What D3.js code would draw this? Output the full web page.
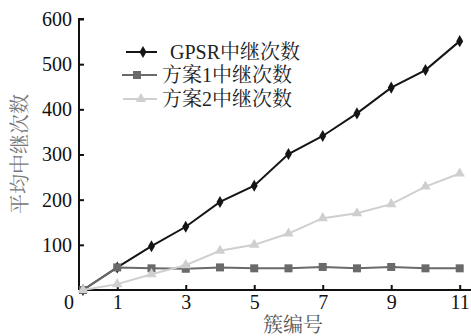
<!DOCTYPE html>
<html>
<head>
<meta charset="utf-8">
<script src="https://cdn.jsdelivr.net/npm/d3@7"></script>
<style>
  body { margin: 0; background: #fff; }
</style>
</head>
<body>
<div id="chart-mount"></div>
<script>
var WIDTH = 471;
var HEIGHT = 336;
var FONT = '"Liberation Serif", "Noto Serif CJK SC", "Noto Sans CJK SC", serif';

var CLUSTERS = [0, 1, 2, 3, 4, 5, 6, 7, 8, 9, 10, 11];
var GPSR = [0, 50, 97, 140, 195, 231, 301, 341, 391, 448, 487, 551];
var SCHEME1 = [0, 50, 48, 47, 50, 48, 48, 51, 48, 51, 48, 48];
var SCHEME2 = [0, 13, 35, 55, 87, 100, 125, 159, 170, 190, 229, 258];
var X_TICKS = [1, 3, 5, 7, 9, 11];
var Y_TICKS = [100, 200, 300, 400, 500, 600];
var SERIES_NAMES = ['GPSR中继次数', '方案1中继次数', '方案2中继次数'];

var SERIES = [
  { name: SERIES_NAMES[0], values: GPSR, color: '#151515', symbol: d3.symbolDiamond, size: 42 },
  { name: SERIES_NAMES[1], values: SCHEME1, color: '#6a6a6a', symbol: d3.symbolSquare, size: 64 },
  { name: SERIES_NAMES[2], values: SCHEME2, color: '#cfcfcf', symbol: d3.symbolTriangle, size: 48 }
];

var $svg = d3.select('#chart-mount').append('svg')
  .attr('width', WIDTH)
  .attr('height', HEIGHT)
  .style('font-family', FONT);

var x = d3.scaleLinear().domain([-0.117, 11.33]).range([79, 471]);
var y = d3.scaleLinear().domain([0, 600]).range([290, 19]);

// axes, ticks point inward
var xAxis = d3.axisBottom(x).tickValues(X_TICKS).tickSize(-5).tickPadding(7)
  .tickFormat(d3.format('d'));
var yAxis = d3.axisLeft(y).tickValues(Y_TICKS).tickSize(-5).tickPadding(7)
  .tickFormat(d3.format('d'));

var $gx = $svg.append('g').attr('transform', 'translate(0,' + y(0) + ')').call(xAxis);
var $gy = $svg.append('g').attr('transform', 'translate(' + x.range()[0] + ',0)').call(yAxis);

[$gx, $gy].forEach(function ($g) {
  $g.attr('font-family', FONT).attr('font-size', 20);
  $g.select('.domain').attr('stroke', '#111').attr('stroke-width', 2);
  $g.selectAll('.tick line').attr('stroke', '#111').attr('stroke-width', 2);
  $g.selectAll('.tick text').attr('fill', '#111');
});
$gx.select('.domain').attr('d', 'M' + x.range()[0] + ',0H' + x.range()[1]);
$gy.select('.domain').attr('d', 'M0,' + y(0) + 'V' + y(600) + 'h5');
$gx.selectAll('.tick text').attr('dy', '0.58em');

// shared origin label
$svg.append('text')
  .attr('x', 69).attr('y', y(0) + 19)
  .attr('text-anchor', 'middle')
  .style('font-size', '20px')
  .attr('fill', '#111')
  .text('0');

// series
var line = d3.line()
  .x(function (d, i) { return x(CLUSTERS[i]); })
  .y(function (d) { return y(d); });

SERIES.forEach(function (s) {
  $svg.append('path')
    .attr('d', line(s.values))
    .attr('fill', 'none')
    .attr('stroke', s.color)
    .attr('stroke-width', 2);
  $svg.selectAll(null)
    .data(s.values)
    .enter()
      .append('path')
      .attr('d', d3.symbol().type(s.symbol).size(s.size))
      .attr('transform', function (d, i) { return 'translate(' + x(CLUSTERS[i]) + ',' + y(d) + ')'; })
      .attr('fill', s.color);
});

// legend
var LEGEND_ROWS = [52, 75, 99];
var LEGEND_LINE = [[126, 157, 143, 170], [122, 157, 137, 162], [123, 157, 141, 162]];
SERIES.forEach(function (s, i) {
  var ly = LEGEND_ROWS[i];
  var l = LEGEND_LINE[i];
  var $g = $svg.append('g');
  $g.append('line')
    .attr('x1', l[0]).attr('x2', l[1]).attr('y1', ly).attr('y2', ly)
    .attr('stroke', s.color).attr('stroke-width', 2);
  $g.append('path')
    .attr('d', d3.symbol().type(s.symbol).size(s.size))
    .attr('transform', 'translate(' + l[2] + ',' + ly + ')')
    .attr('fill', s.color);
  $g.append('text')
    .attr('x', l[3]).attr('y', ly)
    .attr('dy', '0.35em')
    .style('font-size', '20px')
    .attr('fill', '#222')
    .text(s.name);
});

// axis titles
$svg.append('text')
  .attr('transform', 'translate(20,154) rotate(-90)')
  .attr('text-anchor', 'middle')
  .attr('dy', '0.35em')
  .style('font-size', '20px')
  .attr('fill', '#777')
  .text('平均中继次数');

$svg.append('text')
  .attr('x', 293).attr('y', 325)
  .attr('text-anchor', 'middle')
  .attr('dy', '0.35em')
  .style('font-size', '20px')
  .attr('fill', '#555')
  .text('簇编号');
</script>
</body>
</html>
